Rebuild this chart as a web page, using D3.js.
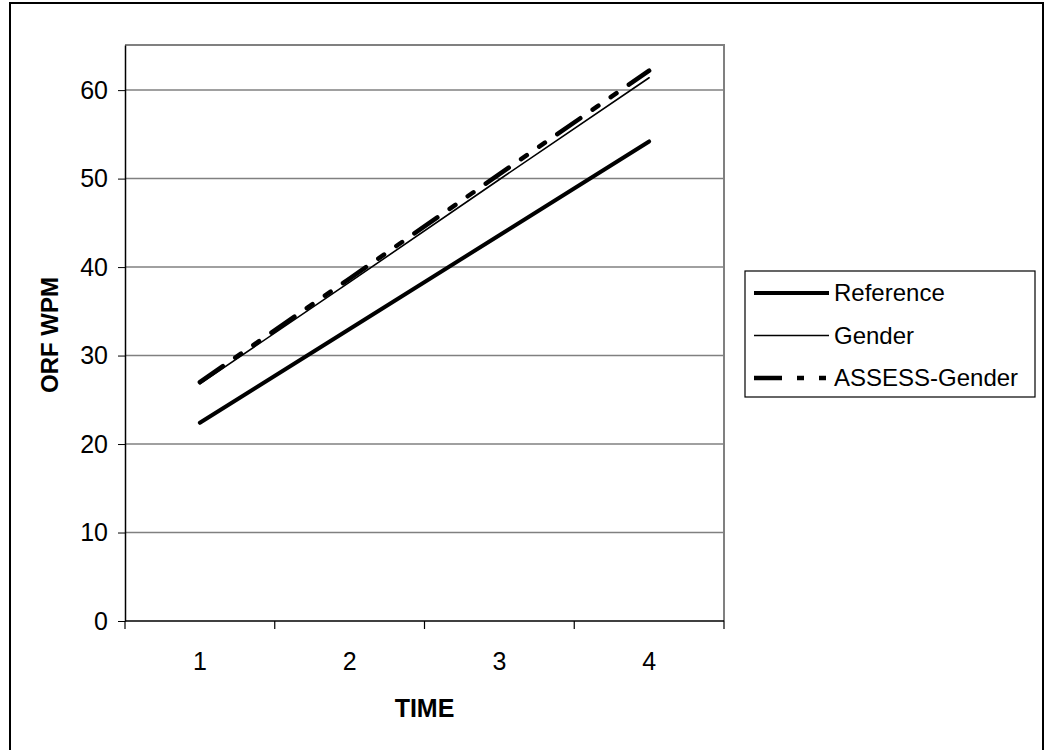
<!DOCTYPE html>
<html>
<head>
<meta charset="utf-8">
<script src="https://cdn.jsdelivr.net/npm/d3@7"></script>
<style>
  html, body { margin: 0; padding: 0; background: #fff; }
  svg { display: block; font-family: "Liberation Sans", Arial, sans-serif; }
</style>
</head>
<body>
<svg id="chart" width="1045" height="750"></svg>
<script>
// Oral reading fluency (words per minute) across four assessment times
const times = [1, 2, 3, 4];
const referenceVals = [22.4, 33.0, 43.6, 54.2];
const genderVals = [26.8, 38.3, 49.9, 61.4];
const assessGenderVals = [27.0, 38.7, 50.5, 62.2];
const yTicks = [0, 10, 20, 30, 40, 50, 60];
const seriesNames = ["Reference", "Gender", "ASSESS-Gender"];

const series = [
  { name: seriesNames[0], values: referenceVals, width: 4, dash: null },
  { name: seriesNames[1], values: genderVals, width: 1.6, dash: null },
  { name: seriesNames[2], values: assessGenderVals, width: 4.5, dash: "28,15,7,15,7,15" }
];

const svg = d3.select("#chart");
const plot = { left: 125, top: 45, right: 724, bottom: 621 };

// Outer chart frame
svg.append("rect")
  .attr("x", 10).attr("y", 3).attr("width", 1033).attr("height", 760)
  .attr("fill", "#fff").attr("stroke", "#000").attr("stroke-width", 2);

// Category scale: points centred inside equal bands
const x = d3.scaleBand().domain(times).range([plot.left, plot.right]).paddingInner(0).paddingOuter(0);
const xc = d => x(d) + x.bandwidth() / 2;
const y = d3.scaleLinear().domain([0, 65.1]).range([plot.bottom, plot.top]);

// Horizontal gridlines
svg.append("g").selectAll("line").data(yTicks.filter(v => v > 0)).join("line")
  .attr("x1", plot.left).attr("x2", plot.right)
  .attr("y1", d => y(d)).attr("y2", d => y(d))
  .attr("stroke", "#808080").attr("stroke-width", 1.5);

// Plot border (top & right in grey)
svg.append("path")
  .attr("d", `M${plot.left},${plot.top}H${plot.right}V${plot.bottom}`)
  .attr("fill", "none").attr("stroke", "#808080").attr("stroke-width", 2);

// Y axis
const yAxis = svg.append("g")
  .attr("transform", `translate(${plot.left},0)`)
  .call(d3.axisLeft(y).tickValues(yTicks).tickSizeInner(7).tickSizeOuter(0)
    .tickPadding(10).tickFormat(d3.format("d")));
yAxis.select(".domain").attr("stroke", "#000").attr("stroke-width", 1.5);
yAxis.selectAll(".tick line").attr("stroke", "#000");
yAxis.selectAll("text").attr("font-size", 25).attr("fill", "#000")
  .attr("font-family", "Liberation Sans, Arial, sans-serif");

// X axis: ticks on band boundaries, labels in band centres
const xAxisG = svg.append("g").attr("transform", `translate(0,${plot.bottom})`);
xAxisG.append("line")
  .attr("x1", plot.left).attr("x2", plot.right)
  .attr("stroke", "#000").attr("stroke-width", 1.5);
const boundaries = times.map(t => x(t)).concat([x(times[times.length - 1]) + x.bandwidth()]);
xAxisG.selectAll("line.tk").data(boundaries).join("line").attr("class", "tk")
  .attr("x1", d => d).attr("x2", d => d).attr("y1", 0).attr("y2", 8)
  .attr("stroke", "#000").attr("stroke-width", 1.2);
xAxisG.selectAll("text").data(times).join("text")
  .attr("x", d => xc(d)).attr("y", 49)
  .attr("text-anchor", "middle").attr("font-size", 25).attr("fill", "#000")
  .text(d => d);

// Axis titles
svg.append("text")
  .attr("x", (plot.left + plot.right) / 2).attr("y", 717)
  .attr("text-anchor", "middle").attr("font-size", 25).attr("font-weight", "bold")
  .text("TIME");
svg.append("text")
  .attr("transform", `translate(58,${(plot.top + plot.bottom) / 2 + 2}) rotate(-90)`)
  .attr("text-anchor", "middle").attr("font-size", 24).attr("font-weight", "bold")
  .text("ORF WPM");

// Series lines
const line = d3.line().x((d, i) => xc(times[i])).y(d => y(d));
svg.append("g").selectAll("path").data(series).join("path")
  .attr("d", s => line(s.values))
  .attr("fill", "none").attr("stroke", "#000")
  .attr("stroke-width", s => s.width)
  .attr("stroke-dasharray", s => s.dash)
  .attr("stroke-linecap", "round");

// Legend
const legend = svg.append("g");
legend.append("rect")
  .attr("x", 745).attr("y", 271).attr("width", 290).attr("height", 126)
  .attr("fill", "#fff").attr("stroke", "#000").attr("stroke-width", 1.2);
const rows = legend.selectAll("g.row").data(series).join("g").attr("class", "row")
  .attr("transform", (d, i) => `translate(0,${293 + i * 42.5})`);
rows.append("line")
  .attr("x1", 754).attr("x2", 829).attr("y1", 0).attr("y2", 0)
  .attr("stroke", "#000")
  .attr("stroke-width", s => s.width)
  .attr("stroke-dasharray", s => s.dash);
rows.append("text")
  .attr("x", 834).attr("y", 8)
  .attr("font-size", 24).attr("fill", "#000")
  .text(s => s.name);
</script>
</body>
</html>
